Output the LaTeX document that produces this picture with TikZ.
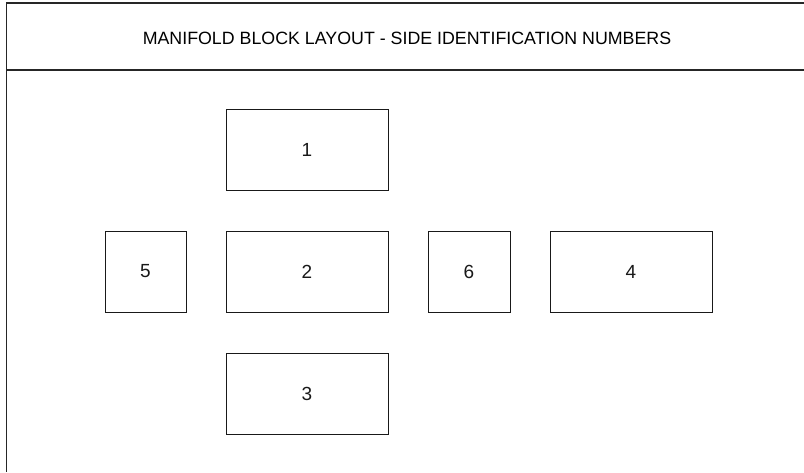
\documentclass[tikz,border=0pt]{standalone}
\usepackage{fontspec}
\setmainfont{Liberation Sans}
\begin{document}
\begin{tikzpicture}[x=1pt,y=-1pt,
  frameline/.style={line width=1.3pt, black!85},
  sidebox/.style={draw, line width=0.9pt, black!90, fill=white},
  sidelabel/.style={font=\fontsize{19}{22}\selectfont}]
\useasboundingbox (0,0) rectangle (804,472);
% sheet frame: left edge, top edge and title separator
\draw[frameline] (804,3) -- (6.5,3) -- (6.5,472);
\draw[frameline] (6.5,70) -- (804,70);
\node[font=\fontsize{17.8}{20}\selectfont] (title) at (407,38.5) {MANIFOLD BLOCK LAYOUT - SIDE IDENTIFICATION NUMBERS};
% manifold sides
\draw[sidebox] (226,109) rectangle (388,190) node[midway,sidelabel] (s1) {1};
\draw[sidebox] (105,231) rectangle (186,312) node[midway,sidelabel] (s5) {5};
\draw[sidebox] (226,231) rectangle (388,312) node[midway,sidelabel] (s2) {2};
\draw[sidebox] (428,231) rectangle (510,312) node[midway,sidelabel] (s6) {6};
\draw[sidebox] (550,231) rectangle (712,312) node[midway,sidelabel] (s4) {4};
\draw[sidebox] (226,353) rectangle (388,434) node[midway,sidelabel] (s3) {3};
\end{tikzpicture}
\end{document}
